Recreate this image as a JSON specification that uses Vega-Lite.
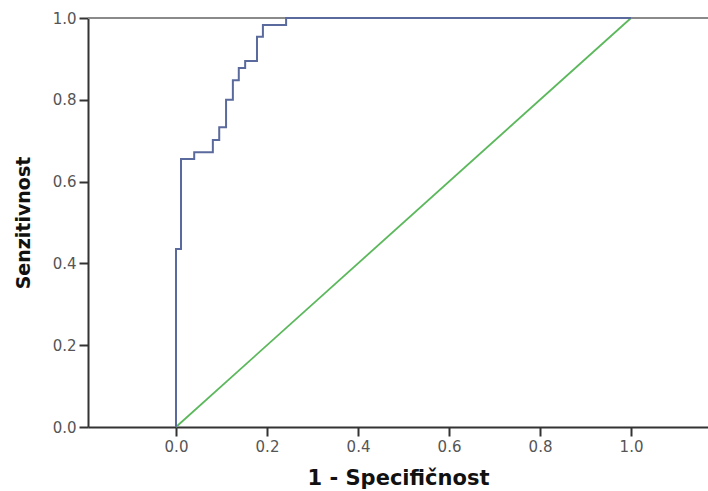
{
  "$schema": "https://vega.github.io/schema/vega-lite/v6.json",
  "width": 620,
  "height": 409,
  "autosize": {"type": "none"},
  "padding": {"left": 88, "top": 18, "right": 0, "bottom": 64},
  "background": "white",
  "config": {
    "view": {"stroke": null},
    "axis": {
      "grid": false,
      "domainColor": "#333333",
      "domainWidth": 2,
      "tickColor": "#333333",
      "tickWidth": 2,
      "tickSize": 9,
      "labelFont": "DejaVu Sans",
      "labelFontSize": 15,
      "labelColor": "#555555",
      "labelPadding": 3,
      "titleFont": "DejaVu Sans",
      "titleFontWeight": "bold",
      "titleColor": "#111111"
    }
  },
  "datasets": {
    "roc": [
      {"x": 0, "y": 0},
      {"x": 0, "y": 0.435},
      {"x": 0.011, "y": 0.655},
      {"x": 0.040, "y": 0.672},
      {"x": 0.081, "y": 0.702},
      {"x": 0.095, "y": 0.733},
      {"x": 0.110, "y": 0.800},
      {"x": 0.125, "y": 0.848},
      {"x": 0.138, "y": 0.878},
      {"x": 0.152, "y": 0.895},
      {"x": 0.178, "y": 0.954},
      {"x": 0.191, "y": 0.983},
      {"x": 0.242, "y": 1.0},
      {"x": 1.0, "y": 1.0}
    ],
    "diag": [
      {"x": 0, "y": 0},
      {"x": 1, "y": 1}
    ],
    "frame": [
      {"y": 1}
    ]
  },
  "encoding": {
    "y": {
      "field": "y",
      "type": "quantitative",
      "scale": {"domain": [0, 1], "nice": false, "zero": false},
      "axis": {
        "values": [0, 0.2, 0.4, 0.6, 0.8, 1.0],
        "format": ".1f",
        "title": "Senzitivnost",
        "titleFontSize": 19,
        "titlePadding": 19
      }
    }
  },
  "layer": [
    {
      "data": {"name": "frame"},
      "mark": {"type": "rule", "color": "#8a8a8a", "strokeWidth": 2}
    },
    {
      "data": {"name": "diag"},
      "mark": {"type": "line", "color": "#5cb85c", "strokeWidth": 1.8},
      "encoding": {
        "x": {
          "field": "x",
          "type": "quantitative",
          "scale": {"domain": [-0.1934, 1.1692], "nice": false, "zero": false},
          "axis": {
            "values": [0, 0.2, 0.4, 0.6, 0.8, 1.0],
            "format": ".1f",
            "title": "1 - Specifičnost",
            "titleFontSize": 21,
            "titlePadding": 13
          }
        }
      }
    },
    {
      "data": {"name": "roc"},
      "mark": {"type": "line", "color": "#5a6a9c", "strokeWidth": 2, "interpolate": "step-after"},
      "encoding": {
        "x": {
          "field": "x",
          "type": "quantitative",
          "scale": {"domain": [-0.1934, 1.1692], "nice": false, "zero": false},
          "axis": {
            "values": [0, 0.2, 0.4, 0.6, 0.8, 1.0],
            "format": ".1f",
            "title": "1 - Specifičnost",
            "titleFontSize": 21,
            "titlePadding": 13
          }
        }
      }
    }
  ]
}
